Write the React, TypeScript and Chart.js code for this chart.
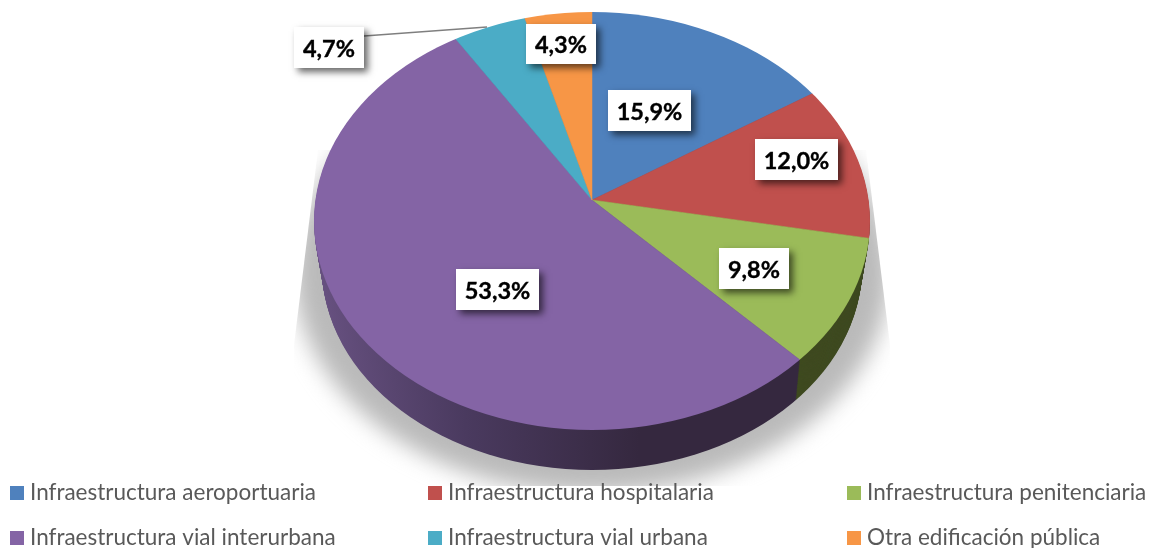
import React, { useEffect, useRef } from "react";
import { Chart, registerables } from "chart.js";

Chart.register(...registerables);

// ---- data ----
const categories = [
  "Infraestructura aeroportuaria",
  "Infraestructura hospitalaria",
  "Infraestructura penitenciaria",
  "Infraestructura vial interurbana",
  "Infraestructura vial urbana",
  "Otra edificación pública",
];
const shares = [15.9, 12.0, 9.8, 53.3, 4.7, 4.3];
const sliceColors = ["#4f81bd", "#c0504d", "#9bbb59", "#8464a5", "#4bacc6", "#f79646"];

// ---- layout (presentation only) ----
const APEX = { x: 592, y: 200 };
const TOP = { cx: 592, cy: 221, rx: 278, ry: 209 };
const BOTTOM = { cx: 592, cy: 267, rx: 270, ry: 203 };
const Y_SQUASH = 0.75;
const APEX_DROP = 43;
const DEPTH_LAYERS = 40;
const labelBoxes = [
  [608, 90, 83, 41],
  [755, 139, 83, 41],
  [719, 248, 70, 41],
  [456, 269, 83, 41],
  [294, 27, 70, 41],
  [526, 24, 70, 40],
];
const legendColumns = [10, 428, 847];
const legendRows = [486, 531];
const LABEL_FONT = "bold 23.5px Lato";
const LEGEND_FONT = "22.5px Lato";

const formatShare = (v: number) => v.toFixed(1).replace(".", ",") + "%";

function ellipsePath(ctx: CanvasRenderingContext2D, e: { cx: number; cy: number; rx: number; ry: number }) {
  ctx.beginPath();
  ctx.ellipse(e.cx, e.cy, e.rx, e.ry, 0, 0, Math.PI * 2);
}

const pie3d = {
  id: "pie3d",
  beforeDatasetsDraw(chart: any) {
    const ctx: CanvasRenderingContext2D = chart.ctx;
    const arcs = chart.getDatasetMeta(0).data;

    // soft cast shadow, cut along two slanted edges
    ctx.save();
    ctx.beginPath();
    ctx.moveTo(318, 150);
    ctx.lineTo(294, 345);
    ctx.lineTo(294, 486);
    ctx.lineTo(890, 486);
    ctx.lineTo(890, 345);
    ctx.lineTo(866, 150);
    ctx.closePath();
    ctx.clip();
    (ctx as any).filter = "blur(11px)";
    ctx.fillStyle = "rgba(178,178,178,0.9)";
    ctx.beginPath();
    ctx.ellipse(592, 272, 298, 221, 0, 0, Math.PI * 2);
    ctx.fill();
    (ctx as any).filter = "none";
    ctx.restore();

    // side wall: the same arcs, repeated downward in dark tones
    const purple = ctx.createLinearGradient(320, 0, 640, 0);
    purple.addColorStop(0, "#66507f");
    purple.addColorStop(0.45, "#4a3a5f");
    purple.addColorStop(1, "#35283f");
    const sideColors: any[] = ["#2f4a6e", "#6e2e2c", "#3f4a20", purple, "#2b6270", "#8d5528"];

    for (let i = DEPTH_LAYERS; i >= 1; i--) {
      const t = i / DEPTH_LAYERS;
      const e = {
        cx: TOP.cx + (BOTTOM.cx - TOP.cx) * t,
        cy: TOP.cy + (BOTTOM.cy - TOP.cy) * t,
        rx: TOP.rx + (BOTTOM.rx - TOP.rx) * t,
        ry: TOP.ry + (BOTTOM.ry - TOP.ry) * t,
      };
      const k = e.rx / TOP.rx;
      ctx.save();
      ellipsePath(ctx, e);
      ctx.clip();
      ctx.translate(APEX.x, APEX.y + APEX_DROP * t);
      ctx.scale(k, Y_SQUASH * k);
      ctx.translate(-APEX.x, -APEX.y);
      arcs.forEach((arc: any, idx: number) => {
        const saved = arc.options;
        arc.options = { ...saved, backgroundColor: sideColors[idx], borderColor: sideColors[idx] };
        arc.draw(ctx);
        arc.options = saved;
      });
      ctx.restore();
    }

    // top face: the library draws its arcs inside this transform
    ctx.save();
    ellipsePath(ctx, TOP);
    ctx.clip();
    ctx.translate(APEX.x, APEX.y);
    ctx.scale(1, Y_SQUASH);
    ctx.translate(-APEX.x, -APEX.y);
  },
  afterDatasetsDraw(chart: any) {
    const ctx: CanvasRenderingContext2D = chart.ctx;
    ctx.restore();

    // leader line of the 4,7% label
    ctx.save();
    ctx.strokeStyle = "#7f7f7f";
    ctx.lineWidth = 1.6;
    ctx.beginPath();
    ctx.moveTo(364, 36);
    ctx.lineTo(487, 27);
    ctx.stroke();
    ctx.restore();

    // value labels
    const values: number[] = chart.data.datasets[0].data;
    values.forEach((v, i) => {
      const [x, y, w, h] = labelBoxes[i];
      ctx.save();
      ctx.shadowColor = "rgba(0,0,0,0.6)";
      ctx.shadowBlur = 7;
      ctx.shadowOffsetX = 4;
      ctx.shadowOffsetY = 4;
      ctx.fillStyle = "#ffffff";
      ctx.fillRect(x, y, w, h);
      ctx.restore();
      ctx.save();
      ctx.fillStyle = "#000000";
      ctx.strokeStyle = "#000000";
      ctx.lineWidth = 0.35;
      ctx.font = LABEL_FONT;
      ctx.textAlign = "center";
      ctx.textBaseline = "alphabetic";
      ctx.fillText(formatShare(v), x + w / 2, y + h / 2 + 9);
      ctx.strokeText(formatShare(v), x + w / 2, y + h / 2 + 9);
      ctx.restore();
    });

    // legend
    const labels: string[] = chart.data.labels;
    labels.forEach((label, i) => {
      const x = legendColumns[i % 3];
      const y = legendRows[Math.floor(i / 3)];
      ctx.save();
      ctx.fillStyle = sliceColors[i];
      ctx.fillRect(x, y, 14, 14);
      ctx.fillStyle = "#595959";
      ctx.font = LEGEND_FONT;
      ctx.textAlign = "left";
      ctx.textBaseline = "alphabetic";
      ctx.fillText(label, x + 20, y + 14);
      ctx.restore();
    });
  },
};

export default function App() {
  const ref = useRef<HTMLCanvasElement | null>(null);
  useEffect(() => {
    if (!ref.current) return;
    const chart = new Chart(ref.current, {
      type: "pie",
      data: {
        labels: categories,
        datasets: [
          {
            data: shares,
            backgroundColor: sliceColors,
            borderColor: sliceColors,
            borderWidth: 0.6,
            radius: 345,
            clip: false,
          } as any,
        ],
      },
      options: {
        responsive: false,
        animation: false,
        layout: { padding: { left: 33, right: 0, top: 0, bottom: 148 } },
        plugins: { legend: { display: false }, tooltip: { enabled: false } },
      },
      plugins: [pie3d],
    } as any);
    return () => chart.destroy();
  }, []);
  return (
    <canvas
      ref={ref}
      width={1151}
      height={548}
      style={{ position: "absolute", left: 0, top: 0, display: "block" }}
    />
  );
}
